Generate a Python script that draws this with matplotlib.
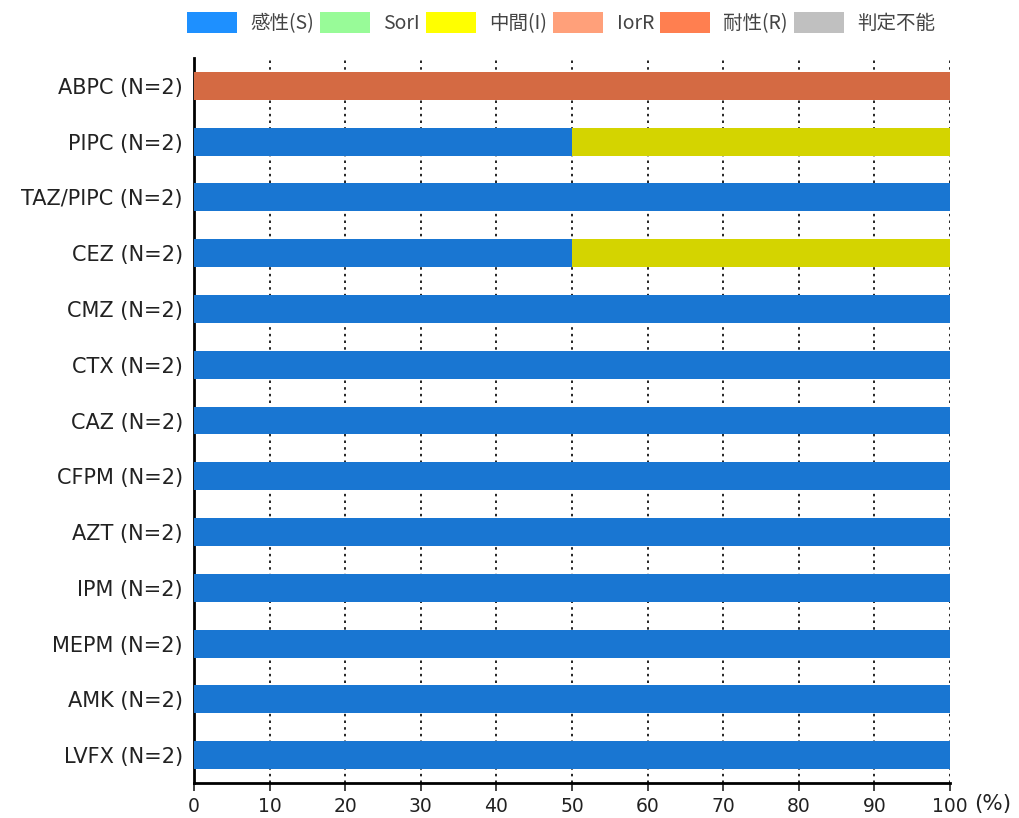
import matplotlib
matplotlib.use("Agg")
import matplotlib.pyplot as plt
from matplotlib.patches import Patch
import numpy as np

plt.rcParams['font.family'] = ['DejaVu Sans', 'Noto Sans CJK JP']

drugs = ["ABPC (N=2)", "PIPC (N=2)", "TAZ/PIPC (N=2)", "CEZ (N=2)", "CMZ (N=2)",
         "CTX (N=2)", "CAZ (N=2)", "CFPM (N=2)", "AZT (N=2)", "IPM (N=2)",
         "MEPM (N=2)", "AMK (N=2)", "LVFX (N=2)"]
S    = [0, 50, 100, 50, 100, 100, 100, 100, 100, 100, 100, 100, 100]
SorI = [0, 0, 0, 0, 0, 0, 0, 0, 0, 0, 0, 0, 0]
I    = [0, 50, 0, 50, 0, 0, 0, 0, 0, 0, 0, 0, 0]
IorR = [0, 0, 0, 0, 0, 0, 0, 0, 0, 0, 0, 0, 0]
R    = [100, 0, 0, 0, 0, 0, 0, 0, 0, 0, 0, 0, 0]
ND   = [0, 0, 0, 0, 0, 0, 0, 0, 0, 0, 0, 0, 0]
xticks = [0, 10, 20, 30, 40, 50, 60, 70, 80, 90, 100]

legend_labels = ["感性(S)", "SorI", "中間(I)", "IorR", "耐性(R)", "判定不能"]
legend_colors = ["#1E90FF", "#98FB98", "#FFFF00", "#FFA07A", "#FF7F50", "#C0C0C0"]
bar_colors = ["#1976D2", "#98FB98", "#D4D400", "#FFA07A", "#D46A43", "#C0C0C0"]

fig = plt.figure(figsize=(10.2, 8.18), dpi=100)
ax = fig.add_axes([194/1020, 1-783/818, (950-194)/1020, (783-58)/818])

y = np.arange(len(drugs))
left = np.zeros(len(drugs))
for vals, col in zip([S, SorI, I, IorR, R, ND], bar_colors):
    v = np.array(vals, dtype=float)
    ax.barh(y, v, left=left, height=0.5, color=col, zorder=3)
    left += v

ax.set_ylim(len(drugs) - 0.5, -0.5)
ax.set_xlim(0, 100)
ax.set_yticks(y)
ax.set_yticklabels(drugs, fontsize=15, color="#222222")
ax.tick_params(axis='y', length=0, pad=8)
ax.set_xticks(xticks)
ax.set_xticklabels([str(t) for t in xticks], fontsize=13.5, color="#222222")
ax.tick_params(axis='x', length=6, width=1.2, color="#222222", pad=4)
for t in xticks[1:]:
    ax.axvline(t, color="black", linestyle=(0, (1.5, 2.5)), linewidth=1.2, zorder=1)
ax.spines['top'].set_visible(False)
ax.spines['right'].set_visible(False)
ax.spines['left'].set_linewidth(2)
ax.spines['bottom'].set_linewidth(2)
ax.annotate("(%)", xy=(1, 0), xycoords='axes fraction', xytext=(24, -21),
            textcoords='offset pixels', fontsize=15.5, color="#222222",
            ha='left', va='center')

handles = [Patch(facecolor=c, edgecolor='none') for c in legend_colors]
fig.legend(handles, legend_labels, loc='center', bbox_to_anchor=(561/1020, 1-23/818),
           ncol=6, frameon=False, handlelength=2.57, handleheight=1.29,
           handletextpad=0.7, columnspacing=0.3, labelcolor="#444444",
           prop={'family': ['Noto Sans CJK JP', 'DejaVu Sans'], 'size': 14})

fig.savefig("out.png", dpi=100)
